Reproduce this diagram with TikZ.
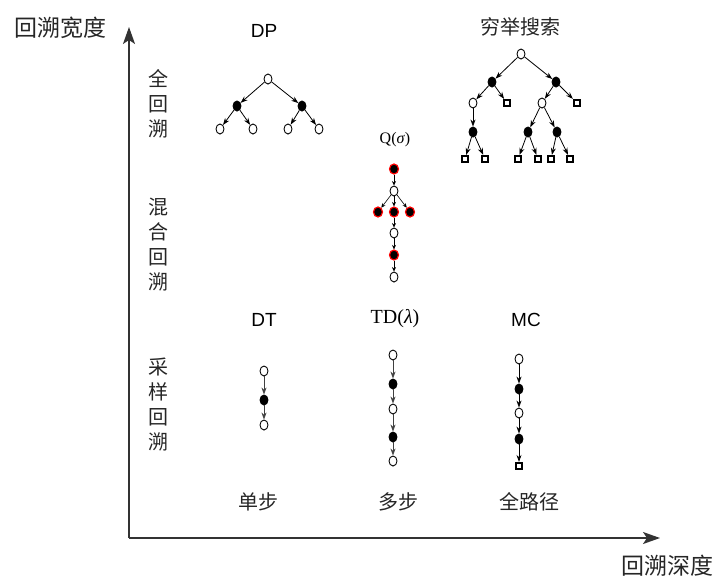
\documentclass[tikz,border=0pt]{standalone}
\usepackage{fontspec}
\setmainfont{Liberation Serif}
\setsansfont{Liberation Sans}
\newfontfamily\cjk{Noto Sans CJK SC}
\usetikzlibrary{arrows.meta,shapes.geometric}
\begin{document}
\begin{tikzpicture}[x=1pt,y=-1pt,
 opn/.style={ellipse,draw,fill=white,line width=0.9pt,minimum width=8pt,minimum height=10pt,inner sep=0pt},
 fil/.style={opn,fill=black},
 rd/.style={opn,fill=black,draw=red,line width=1.2pt,minimum width=9pt,minimum height=10pt},
 sqr/.style={rectangle,draw,fill=white,line width=1.7pt,minimum size=6.5pt,inner sep=0pt},
 arr/.style={-{Stealth[length=7pt,width=5pt]},line width=0.8pt},
 sarr/.style={-{Stealth[length=4.5pt,width=4pt]},line width=0.6pt},
 axis/.style={-{Stealth[length=17pt,width=12pt,inset=4pt]},line width=1.6pt,draw=black!80},
 cjbig/.style={font=\cjk\fontsize{23}{23}\selectfont,text=black!85},
 cj/.style={font=\cjk\fontsize{20}{20}\selectfont,text=black!85},
 cjv/.style={align=center,font=\cjk\fontsize{20}{25}\selectfont,text=black!85},
 sf/.style={font=\sffamily\fontsize{19}{19}\selectfont},
 rm/.style={font=\rmfamily\fontsize{20}{20}\selectfont},
 rms/.style={font=\rmfamily\fontsize{16}{16}\selectfont}]
\useasboundingbox (0,0) rectangle (720,579);

% axes
\coordinate (O) at (129,538);
\coordinate (yt) at (129,27);
\coordinate (xt) at (660,538);
\draw[axis] (O) -- (yt);
\draw[axis] (O) -- (xt);
\node[cjbig] (ylab) at (60,28) {回溯宽度};
\node[cjbig] (xlab) at (667,566) {回溯深度};

% row labels
\node[cjv] (row1) at (158,103.5) {全\\回\\溯};
\node[cjv] (row2) at (158,245) {混\\合\\回\\溯};
\node[cjv] (row3) at (158,405) {采\\样\\回\\溯};

% column labels
\node[cj] (c1) at (258,502) {单步};
\node[cj] (c2) at (398,502) {多步};
\node[cj] (c3) at (529,502) {全路径};

% method labels
\node[sf] (tDP) at (264,31) {DP};
\node[cj] (tEX) at (520,27) {穷举搜索};
\node[rms] (tQ) at (395,140) {Q(\textit{σ})};
\node[sf] (tDT) at (264,320) {DT};
\node[rm] (tTD) at (395,319) {TD(\textit{λ})};
\node[sf] (tMC) at (526,320) {MC};

% DP tree
\node[opn] (d0) at (268,79) {};
\node[fil] (d1) at (237,106) {};
\node[fil] (d2) at (302,106) {};
\node[opn] (d3) at (220,129) {};
\node[opn] (d4) at (253,129) {};
\node[opn] (d5) at (288,129) {};
\node[opn] (d6) at (319,129) {};
\draw[arr] (d0) -- (d1);
\draw[arr] (d0) -- (d2);
\draw[arr] (d1) -- (d3);
\draw[arr] (d1) -- (d4);
\draw[arr] (d2) -- (d5);
\draw[arr] (d2) -- (d6);

% exhaustive search tree
\node[opn] (e0) at (521,54) {};
\node[fil] (e1) at (492,82) {};
\node[fil] (e2) at (556,82) {};
\node[opn] (e3) at (473,103) {};
\node[sqr] (e4) at (507,103) {};
\node[opn] (e5) at (542,103) {};
\node[sqr] (e6) at (577,103) {};
\node[fil] (e7) at (473,132) {};
\node[fil] (e8) at (528,132) {};
\node[fil] (e9) at (557,132) {};
\node[sqr] (f1) at (465,159) {};
\node[sqr] (f2) at (485,159) {};
\node[sqr] (f3) at (518,159) {};
\node[sqr] (f4) at (538,159) {};
\node[sqr] (f5) at (551,159) {};
\node[sqr] (f6) at (570,159) {};
\draw[arr] (e0) -- (e1);
\draw[arr] (e0) -- (e2);
\draw[arr] (e1) -- (e3);
\draw[arr] (e1) -- (e4);
\draw[arr] (e2) -- (e5);
\draw[arr] (e2) -- (e6);
\draw[arr] (e3) -- (e7);
\draw[arr] (e5) -- (e8);
\draw[arr] (e5) -- (e9);
\draw[arr] (e7) -- (f1);
\draw[arr] (e7) -- (f2);
\draw[arr] (e8) -- (f3);
\draw[arr] (e8) -- (f4);
\draw[arr] (e9) -- (f5);
\draw[arr] (e9) -- (f6);

% Q(sigma) chain
\node[rd] (q1) at (394,169) {};
\node[opn] (q2) at (394,191) {};
\node[rd] (q3) at (378,212) {};
\node[rd] (q4) at (394,212) {};
\node[rd] (q5) at (410,212) {};
\node[opn] (q6) at (394,233) {};
\node[rd] (q7) at (394,255) {};
\node[opn] (q8) at (394,277) {};
\draw[sarr] (q1) -- (q2);
\draw[sarr] (q2) -- (q3);
\draw[sarr] (q2) -- (q4);
\draw[sarr] (q2) -- (q5);
\draw[sarr] (q4) -- (q6);
\draw[sarr] (q6) -- (q7);
\draw[sarr] (q7) -- (q8);

% DT chain
\node[opn] (t1) at (264,371) {};
\node[fil] (t2) at (264,400) {};
\node[opn] (t3) at (264,425) {};
\draw[arr,draw=black!75] (t1) -- (t2);
\draw[arr,draw=black!75] (t2) -- (t3);

% TD chain
\node[opn] (u1) at (393,355) {};
\node[fil] (u2) at (393,384) {};
\node[opn] (u3) at (393,409) {};
\node[fil] (u4) at (393,437) {};
\node[opn] (u5) at (393,461) {};
\draw[arr,draw=black!75] (u1) -- (u2);
\draw[arr,draw=black!75] (u2) -- (u3);
\draw[arr,draw=black!75] (u3) -- (u4);
\draw[arr,draw=black!75] (u4) -- (u5);

% MC chain
\node[opn] (m1) at (519,359) {};
\node[fil] (m2) at (519,389) {};
\node[opn] (m3) at (519,413) {};
\node[fil] (m4) at (519,439) {};
\node[sqr] (m5) at (519,466) {};
\draw[arr] (m1) -- (m2);
\draw[arr] (m2) -- (m3);
\draw[arr] (m3) -- (m4);
\draw[arr] (m4) -- (m5);
\end{tikzpicture}
\end{document}
